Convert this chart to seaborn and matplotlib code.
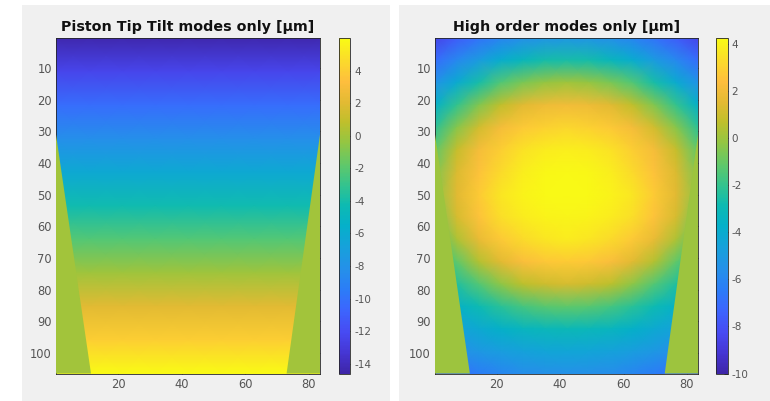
import numpy as np
import pandas as pd
import matplotlib
matplotlib.use("Agg")
import matplotlib.pyplot as plt
from matplotlib.colors import LinearSegmentedColormap, Normalize
from matplotlib.patches import Rectangle
from matplotlib.transforms import Affine2D
import seaborn as sns

# piston/tip/tilt part: sampled every ~10.6 rows, flat across columns
ptt_row_pos = [0.5, 11.1, 21.7, 32.3, 42.9, 53.5, 64.1, 74.7, 85.3, 95.9, 106.5]
ptt_col_pos = [0.5, 10.875, 21.25, 31.625, 42.0, 52.375, 62.75, 73.125, 83.5]
ptt_rows = [-14.4, -12.4, -10.3, -8.3, -6.2, -4.2, -2.2, -0.1, 2.0, 4.0, 6.0]

# high order part [um], sampled on a finer grid, rows top -> bottom
ho_row_pos = [0.5, 7.57, 14.63, 21.7, 28.77, 35.83, 42.9, 49.97, 57.03, 64.1,
              71.17, 78.23, 85.3, 92.37, 99.43, 106.5]
ho_col_pos = [0.5, 7.42, 14.33, 21.25, 28.17, 35.08, 42.0, 48.92, 55.83,
              62.75, 69.67, 76.58, 83.5]
ho_grid = [
    [-8.5, -7.6, -6.8, -6.1, -5.6, -5.3, -5.2, -5.3, -5.6, -6.1, -6.8, -7.6, -8.5],
    [-7.0, -5.9, -4.9, -3.9, -3.2, -2.7, -2.6, -2.7, -3.2, -3.9, -4.9, -5.9, -7.0],
    [-5.4, -4.0, -2.6, -1.4, -0.6, -0.1, 0.1, -0.1, -0.6, -1.4, -2.6, -4.0, -5.4],
    [-3.7, -2.0, -0.5, 0.7, 1.5, 1.9, 2.0, 1.9, 1.5, 0.7, -0.5, -2.0, -3.7],
    [-2.2, -0.4, 1.1, 2.1, 2.7, 3.0, 3.15, 3.0, 2.7, 2.1, 1.1, -0.4, -2.2],
    [-1.1, 0.8, 2.1, 2.9, 3.5, 3.8, 3.9, 3.8, 3.5, 2.9, 2.1, 0.8, -1.1],
    [-0.5, 1.3, 2.5, 3.3, 3.85, 4.1, 4.17, 4.1, 3.85, 3.3, 2.5, 1.3, -0.5],
    [-0.25, 1.5, 2.8, 3.6, 4.0, 4.14, 4.19, 4.14, 4.0, 3.6, 2.8, 1.5, -0.25],
    [-0.65, 1.2, 2.5, 3.4, 3.8, 4.0, 4.07, 4.0, 3.8, 3.4, 2.5, 1.2, -0.65],
    [-1.4, 0.3, 1.7, 2.7, 3.3, 3.6, 3.75, 3.6, 3.3, 2.7, 1.7, 0.3, -1.4],
    [-2.4, -1.1, 0.45, 1.5, 2.3, 2.65, 2.8, 2.65, 2.3, 1.5, 0.45, -1.1, -2.4],
    [-3.35, -2.4, -1.4, -0.3, 0.6, 1.0, 1.2, 1.0, 0.6, -0.3, -1.4, -2.4, -3.35],
    [-4.3, -3.6, -2.9, -2.25, -1.7, -1.3, -1.2, -1.3, -1.7, -2.25, -2.9, -3.6, -4.3],
    [-5.1, -4.6, -4.1, -3.7, -3.3, -3.1, -3.0, -3.1, -3.3, -3.7, -4.1, -4.6, -5.1],
    [-6.2, -5.6, -5.15, -4.8, -4.55, -4.4, -4.35, -4.4, -4.55, -4.8, -5.15, -5.6, -6.2],
    [-7.4, -6.85, -6.4, -6.0, -5.7, -5.55, -5.5, -5.55, -5.7, -6.0, -6.4, -6.85, -7.4],
]

# trapezoid pupil edges, value outside the pupil
edge_rows = [31.0, 106.5]
edge_left = [0.5, 11.5]
edge_right = [83.5, 73.0]
outside_value = 0.0

ptt_lim = (-14.6, 6.0)
ho_lim = (-10.0, 4.25)
ptt_cticks = [4, 2, 0, -2, -4, -6, -8, -10, -12, -14]
ho_cticks = [4, 2, 0, -2, -4, -6, -8, -10]
x_ticks = [20, 40, 60, 80]
y_ticks = [10, 20, 30, 40, 50, 60, 70, 80, 90, 100]

titles = ["Piston Tip Tilt modes only [µm]", "High order modes only [µm]"]

# parula-like colormap
parula = LinearSegmentedColormap.from_list("parula", [
    (0.00, (0.2422, 0.1504, 0.6603)),
    (0.06, (0.2710, 0.2110, 0.8300)),
    (0.12, (0.2800, 0.2900, 0.9500)),
    (0.19, (0.2350, 0.4000, 0.9950)),
    (0.25, (0.1700, 0.4900, 0.9700)),
    (0.31, (0.1450, 0.5650, 0.9150)),
    (0.375, (0.0900, 0.6300, 0.8600)),
    (0.44, (0.0200, 0.6900, 0.7900)),
    (0.50, (0.0500, 0.7300, 0.7000)),
    (0.56, (0.2000, 0.7650, 0.5600)),
    (0.62, (0.3700, 0.7850, 0.4200)),
    (0.69, (0.5800, 0.7750, 0.2600)),
    (0.75, (0.7500, 0.7500, 0.1700)),
    (0.81, (0.8900, 0.7300, 0.2000)),
    (0.87, (0.9950, 0.7450, 0.2400)),
    (0.93, (0.9850, 0.8500, 0.1750)),
    (1.00, (0.9769, 0.9839, 0.0805)),
])

sns.set_theme(style="white", context="paper")
plt.rcParams["font.family"] = ["DejaVu Sans"]
plt.rcParams["axes.unicode_minus"] = False

ptt_df = pd.DataFrame(np.repeat(np.array(ptt_rows)[:, None], len(ptt_col_pos), axis=1),
                      index=ptt_row_pos, columns=ptt_col_pos)
ho_df = pd.DataFrame(ho_grid, index=ho_row_pos, columns=ho_col_pos)

W, H = 770, 401
fig = plt.figure(figsize=(W / 100, H / 100), dpi=100, facecolor="white")

# grey figure backgrounds of the two panels
for x0, x1 in [(22, 390), (399, 770)]:
    fig.add_artist(Rectangle((x0 / W, 0), (x1 - x0) / W, 396 / H,
                             transform=fig.transFigure, facecolor="#f0f0f0",
                             edgecolor="none", zorder=-5))


def px(x0, y0, x1, y1):
    return [x0 / W, 1 - y1 / H, (x1 - x0) / W, (y1 - y0) / H]


layout = [
    (px(56, 38, 320, 373.5), px(338.5, 38, 350, 373.5)),
    (px(435, 38, 698, 373.5), px(716, 38, 727.5, 373.5)),
]

txt = "#555555"
for (ax_box, cb_box), df, lim, cticks, title in zip(
        layout, [ptt_df, ho_df], [ptt_lim, ho_lim], [ptt_cticks, ho_cticks], titles):
    ax = fig.add_axes(ax_box)
    cax = fig.add_axes(cb_box)
    sns.heatmap(df, ax=ax, cbar_ax=cax, cmap=parula, vmin=lim[0], vmax=lim[1],
                shading="gouraud", xticklabels=False, yticklabels=False,
                cbar_kws={"ticks": cticks})
    # put the mesh in pupil pixel coordinates
    cols = list(df.columns)
    rows = list(df.index)
    mesh = ax.collections[0]
    sx = cols[1] - cols[0]
    sy = rows[1] - rows[0]
    mesh.set_transform(Affine2D().scale(sx, sy).translate(cols[0], rows[0]) + ax.transData)
    ax.set_xlim(cols[0], cols[-1])
    ax.set_ylim(rows[-1], rows[0])

    # area outside the trapezoid pupil
    norm = Normalize(lim[0], lim[1])
    fill_c = parula(norm(outside_value))
    ax.fill([cols[0], edge_left[0], edge_left[1], cols[0]],
            [edge_rows[0], edge_rows[0], edge_rows[1], edge_rows[1]],
            color=fill_c, lw=0, zorder=3)
    ax.fill([cols[-1], edge_right[0], edge_right[1], cols[-1]],
            [edge_rows[0], edge_rows[0], edge_rows[1], edge_rows[1]],
            color=fill_c, lw=0, zorder=3)

    ax.set_xticks(x_ticks)
    ax.set_xticklabels([str(t) for t in x_ticks])
    ax.set_yticks(y_ticks)
    ax.set_yticklabels([str(t) for t in y_ticks], rotation=0)
    ax.set_xlabel("")
    ax.set_ylabel("")
    ax.tick_params(direction="in", length=3, width=0.6, color="#262626",
                   labelsize=8.3, labelcolor=txt, top=True, right=True,
                   bottom=True, left=True, pad=3)
    for s in ax.spines.values():
        s.set_visible(True)
        s.set_color("#262626")
        s.set_linewidth(0.6)
    ax.set_title(title, fontsize=10.3, fontweight="bold", color="#111111", pad=5)

    cb = ax.collections[0].colorbar
    cb.outline.set_linewidth(0.6)
    cb.outline.set_edgecolor("#262626")
    cax.tick_params(direction="in", length=3, width=0.6, color="#262626",
                    labelsize=7.5, labelcolor=txt, right=True, pad=3)

fig.savefig("out.png", dpi=100, facecolor="white")
